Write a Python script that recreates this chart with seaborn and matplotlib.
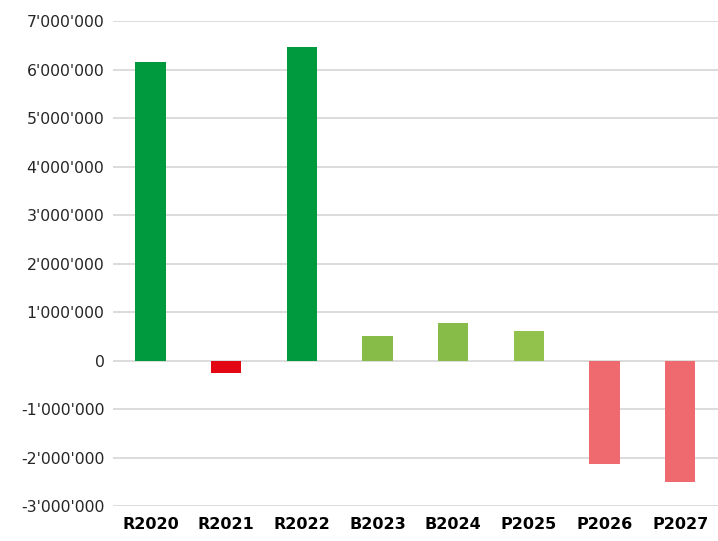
import matplotlib
matplotlib.use("Agg")
import matplotlib.pyplot as plt
import matplotlib.ticker as mticker
import seaborn as sns

# Values
categories = ["R2020", "R2021", "R2022", "B2023", "B2024", "P2025", "P2026", "P2027"]
values = [6150000, -260000, 6470000, 510000, 780000, 620000, -2120000, -2490000]
bar_colors = ["#009A3E", "#E30613", "#009A3E", "#86BC47", "#86BC47", "#92C24C", "#EE6A6E", "#EE6A6E"]
y_ticks = list(range(-3000000, 7000001, 1000000))

sns.set_style("white")
plt.rcParams["font.family"] = ["DejaVu Sans"]

fig = plt.figure(figsize=(7.18, 5.41), dpi=100)
ax = fig.add_axes([0.157, 0.064, 0.843, 0.897])

sns.barplot(x=categories, y=values, hue=categories, palette=bar_colors,
            width=0.4, legend=False, ax=ax, saturation=1, linewidth=0)

ax.set_ylim(-3000000, 7000000)
ax.set_xlim(-0.5, len(categories) - 0.5)
ax.set_yticks(y_ticks)
ax.yaxis.set_major_formatter(mticker.FuncFormatter(lambda v, p: f"{int(v):,}".replace(",", "'")))
ax.grid(axis="y", color="#D9D9D9", linewidth=1.3)
ax.set_axisbelow(True)
for s in ax.spines.values():
    s.set_visible(False)

ax.tick_params(axis="y", length=0, pad=6, labelsize=11.3, labelcolor="#262626")
ax.tick_params(axis="x", length=0, pad=8, labelsize=11.5, labelcolor="#000000")
for lbl in ax.get_xticklabels():
    lbl.set_fontweight("bold")
ax.set_xlabel("")
ax.set_ylabel("")

fig.savefig("out.png", dpi=100)
